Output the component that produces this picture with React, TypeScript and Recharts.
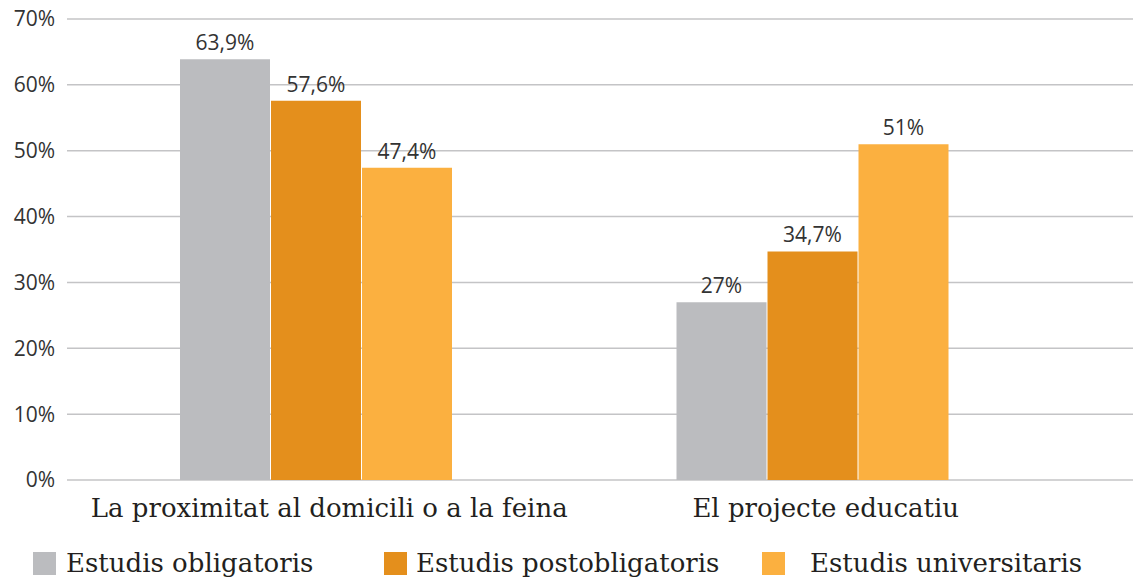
import { BarChart, Bar, XAxis, YAxis, CartesianGrid, LabelList, Legend } from "recharts";

const categories = ["La proximitat al domicili o a la feina", "El projecte educatiu"];
const obligatoris = [63.9, 27];
const postobligatoris = [57.6, 34.7];
const universitaris = [47.4, 51];
const yTicks = [0, 10, 20, 30, 40, 50, 60, 70];

const SERIES = [
  { key: "obligatoris", name: "Estudis obligatoris", color: "#bbbcbf" },
  { key: "postobligatoris", name: "Estudis postobligatoris", color: "#e48f1c" },
  { key: "universitaris", name: "Estudis universitaris", color: "#fbb040" },
];

const data = categories.map((name, i) => ({
  name,
  obligatoris: obligatoris[i],
  postobligatoris: postobligatoris[i],
  universitaris: universitaris[i],
}));

const pct = (v: number) => `${String(v).replace(".", ",")}%`;

const LEGEND_POS = [{ left: 33, gap: 10 }, { left: 384, gap: 9 }, { left: 762, gap: 25 }];

const renderLegend = () => (
  <div style={{ position: "relative", height: 40, width: 1133 }}>
    {SERIES.map((s, i) => (
      <div
        key={s.key}
        style={{
          position: "absolute",
          left: LEGEND_POS[i].left,
          top: 12,
          display: "flex",
          alignItems: "center",
          whiteSpace: "nowrap",
        }}
      >
        <span style={{ width: 23, height: 23, background: s.color, display: "inline-block" }} />
        <span
          style={{
            marginLeft: LEGEND_POS[i].gap,
            fontFamily: "DejaVu Serif",
            fontSize: 26,
            color: "#231f20",
            lineHeight: "23px",
          }}
        >
          {s.name}
        </span>
      </div>
    ))}
  </div>
);

export default function App() {
  return (
    <div style={{ position: "absolute", left: 0, top: 0 }}>
      <BarChart
        width={1133}
        height={580}
        data={data}
        margin={{ top: 19, right: 0, bottom: 0, left: 0 }}
        barGap={1}
        barCategoryGap={113}
      >
        <CartesianGrid vertical={false} stroke="#c4c4c6" strokeWidth={1.5} />
        <XAxis
          dataKey="name"
          height={60}
          axisLine={false}
          tickLine={false}
          tickMargin={13}
          padding={{ left: 0, right: 73 }}
          tick={{ fontFamily: "DejaVu Serif", fontSize: 26, fill: "#231f20", dx: 14 }}
          interval={0}
        />
        <YAxis
          width={67}
          domain={[0, 70]}
          ticks={yTicks}
          axisLine={false}
          tickLine={false}
          tickMargin={6}
          tickFormatter={(v: number) => `${v}%`}
          tick={{ fontFamily: "Open Sans", fontSize: 21, fill: "#333" }}
        />
        <Legend verticalAlign="bottom" content={renderLegend} wrapperStyle={{ left: 0, bottom: 0 }} />
        {SERIES.map((s) => (
          <Bar key={s.key} dataKey={s.key} name={s.name} fill={s.color} isAnimationActive={false}>
            <LabelList
              dataKey={s.key}
              position="top"
              offset={9}
              formatter={(v: number) => pct(v)}
              style={{ fontFamily: "Open Sans", fontSize: 21, fill: "#333" }}
            />
          </Bar>
        ))}
      </BarChart>
    </div>
  );
}
